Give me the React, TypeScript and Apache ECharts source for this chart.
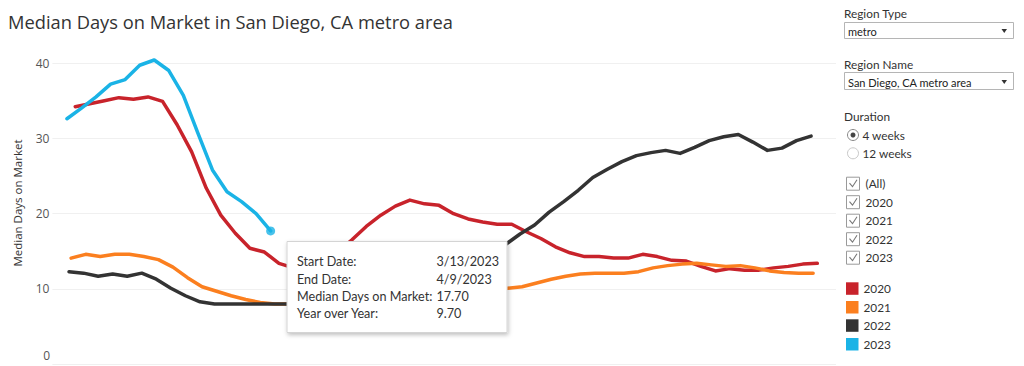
import React, { useEffect, useRef } from "react";
import * as echarts from "echarts";

// Week-ending day-of-year of each series' first weekly point (Sundays)
const firstDay2020 = 5;
const firstDay2021 = 3;
const firstDay2022 = 2;
const firstDay2023 = 1;

const values2020 = [
  34.2, 34.6, 35.0, 35.4, 35.2, 35.5, 34.9, 31.8, 28.2, 23.4, 19.8, 17.4, 15.4,
  14.9, 13.4, 12.8, 12.9, 13.6, 14.9, 16.5, 18.3, 19.8, 21.0, 21.8, 21.3, 21.1,
  20.0, 19.3, 18.9, 18.6, 18.6, 17.6, 16.7, 15.6, 14.8, 14.3, 14.3, 14.1, 14.1,
  14.6, 14.3, 13.8, 13.7, 13.0, 12.4, 12.7, 12.5, 12.5, 12.8, 13.0, 13.3, 13.4,
];
const values2021 = [
  14.1, 14.6, 14.3, 14.6, 14.6, 14.3, 13.9, 12.9, 11.5, 10.3, 9.7, 9.1, 8.6,
  8.2, 8.0, 8.0, 8.0, 8.0, 8.0, 8.0, 8.0, 8.1, 8.2, 8.4, 8.6, 8.9, 9.2, 9.5,
  9.7, 9.9, 10.1, 10.3, 10.8, 11.3, 11.7, 12.0, 12.1, 12.1, 12.1, 12.3, 12.8,
  13.1, 13.3, 13.4, 13.2, 13.0, 13.1, 12.8, 12.4, 12.2, 12.1, 12.1,
];
const values2022 = [
  12.3, 12.1, 11.7, 12.0, 11.7, 12.1, 11.3, 10.1, 9.1, 8.3, 8.0, 8.0, 8.0, 8.0,
  8.0, 8.0, 8.0, 8.0, 8.1, 8.2, 8.4, 8.7, 9.2, 9.8, 10.5, 11.3, 12.2, 13.1,
  14.0, 14.9, 15.9, 17.3, 18.5, 20.2, 21.6, 23.1, 24.8, 25.9, 26.9, 27.7, 28.1,
  28.4, 28.0, 28.8, 29.7, 30.2, 30.5, 29.5, 28.4, 28.7, 29.7, 30.3,
];
const values2023 = [
  32.6, 34.0, 35.5, 37.2, 37.8, 39.7, 40.4, 39.0, 35.7, 30.7, 25.8, 22.9, 21.6,
  20.0, 17.7,
];

const years = ["2020", "2021", "2022", "2023"];
const yearColors = ["#c8232b", "#fb7f1f", "#333333", "#1ab3e6"];
const yTicks = [0, 10, 20, 30, 40];

const titleText = "Median Days on Market in San Diego, CA metro area";
const yAxisTitle = "Median Days on Market";

const tooltipLabels = ["Start Date:", "End Date:", "Median Days on Market:", "Year over Year:"];
const tooltipValues = ["3/13/2023", "4/9/2023", "17.70", "9.70"];

const regionType = "metro";
const regionName = "San Diego, CA metro area";
const durationOptions = ["4 weeks", "12 weeks"];
const yearFilter = ["(All)", "2020", "2021", "2022", "2023"];

const TITLE_FONT = '"Open Sans", "Noto Sans", sans-serif';
const FONT = 'Lato, "Open Sans", sans-serif';

function weekly(firstDay: number, vals: number[]) {
  return vals.map((v, i) => [firstDay + 7 * i, v]);
}

function txt(x: number, y: number, text: string, size: number, fill = "#333", extra: any = {}) {
  const { align, family, ...rest } = extra;
  return {
    type: "text",
    x,
    y,
    z: 100,
    silent: true,
    ...rest,
    style: {
      text,
      fill,
      font: `${size}px ${family || FONT}`,
      textAlign: align || "left",
      align: align || "left",
      textVerticalAlign: "middle",
      verticalAlign: "middle",
    },
  };
}

export default function App() {
  const ref = useRef<HTMLDivElement>(null);

  useEffect(() => {
    if (!ref.current) return;
    const chart = echarts.init(ref.current, undefined, { renderer: "svg" });

    const allData = [
      weekly(firstDay2020, values2020),
      weekly(firstDay2021, values2021),
      weekly(firstDay2022, values2022),
      weekly(firstDay2023, values2023),
    ];

    const series: any[] = allData.map((d, i) => ({
      name: years[i],
      type: "line",
      data: d,
      showSymbol: false,
      symbol: "none",
      clip: false,
      lineStyle: { width: 3.5, color: yearColors[i], join: "round", cap: "round" },
      itemStyle: { color: yearColors[i] },
      z: 2 + i,
    }));
    const last2023 = allData[3][allData[3].length - 1];
    series.push({
      type: "scatter",
      data: [last2023],
      symbol: "circle",
      symbolSize: 9,
      itemStyle: { color: yearColors[3] },
      clip: false,
      z: 10,
    });

    const g: any[] = [];
    // title
    g.push(txt(8, 21, titleText, 18.3, "#333", { family: TITLE_FONT }));
    // y axis title
    g.push({
      type: "text",
      x: 17,
      y: 203,
      rotation: Math.PI / 2,
      z: 100,
      silent: true,
      style: {
        text: yAxisTitle,
        fill: "#333",
        font: `11.5px ${TITLE_FONT}`,
        textAlign: "center",
        align: "center",
        textVerticalAlign: "middle",
        verticalAlign: "middle",
      },
    });
    // zero label (raised as in the reference)
    g.push(txt(50, 355, String(yTicks[0]), 12, "#555", { align: "right", family: TITLE_FONT }));

    // tooltip box
    g.push({
      type: "rect",
      z: 90,
      silent: true,
      shape: { x: 287, y: 241.5, width: 220, height: 91 },
      style: {
        fill: "#ffffff",
        stroke: "#d4d4d4",
        lineWidth: 1,
        shadowBlur: 4,
        shadowOffsetX: 1,
        shadowOffsetY: 2,
        shadowColor: "rgba(0,0,0,0.25)",
      },
    });
    const rowY = [261.7, 279.2, 296.7, 313.3];
    tooltipLabels.forEach((l, i) => {
      g.push(txt(297, rowY[i], l, 12.6, "#333"));
      g.push(txt(436.5, rowY[i], tooltipValues[i], 12.6, "#333"));
    });

    // right panel
    const panelX = 844;
    const LBL = 11.8;
    const DD = 11;
    g.push(txt(panelX, 13, "Region Type", LBL, "#333"));
    g.push({
      type: "rect",
      z: 90,
      silent: true,
      shape: { x: 844.5, y: 22.5, width: 169, height: 16 },
      style: { fill: "#fff", stroke: "#b5b5b5", lineWidth: 1 },
    });
    g.push(txt(848, 31, regionType, DD, "#222"));
    g.push({
      type: "polygon",
      z: 100,
      silent: true,
      shape: { points: [[1001.5, 29], [1007, 29], [1004.25, 33]] },
      style: { fill: "#333" },
    });

    g.push(txt(panelX, 64, "Region Name", LBL, "#333"));
    g.push({
      type: "rect",
      z: 90,
      silent: true,
      shape: { x: 844.5, y: 72.5, width: 169, height: 17 },
      style: { fill: "#fff", stroke: "#b5b5b5", lineWidth: 1 },
    });
    g.push(txt(848, 82, regionName, DD, "#222"));
    g.push({
      type: "polygon",
      z: 100,
      silent: true,
      shape: { points: [[1001.5, 80], [1007, 80], [1004.25, 84]] },
      style: { fill: "#333" },
    });

    g.push(txt(panelX, 116, "Duration", LBL, "#333"));
    const radioY = [135, 153.3];
    durationOptions.forEach((d, i) => {
      g.push({
        type: "circle",
        z: 100,
        silent: true,
        shape: { cx: 853, cy: radioY[i], r: 5.5 },
        style: { fill: "#fff", stroke: i === 0 ? "#888" : "#c8c8c8", lineWidth: 1 },
      });
      if (i === 0) {
        g.push({
          type: "circle",
          z: 101,
          silent: true,
          shape: { cx: 853, cy: radioY[i], r: 2.5 },
          style: { fill: "#444" },
        });
      }
      g.push(txt(862.5, radioY[i], d, LBL, "#333"));
    });

    const checkY = [183.7, 202.2, 220.7, 239.2, 257.7];
    yearFilter.forEach((t, i) => {
      const cy = checkY[i];
      g.push({
        type: "rect",
        z: 100,
        silent: true,
        shape: { x: 846.5, y: cy - 6.5, width: 13, height: 13 },
        style: { fill: "#fff", stroke: "#9a9a9a", lineWidth: 1 },
      });
      g.push({
        type: "polyline",
        z: 101,
        silent: true,
        shape: { points: [[849.5, cy - 0.5], [852.5, cy + 3], [857, cy - 4]] },
        style: { stroke: "#777", lineWidth: 1.1, fill: null },
      });
      g.push(txt(865.5, cy, t, LBL, "#333"));
    });

    const legY = [288.3, 307, 325.3, 344];
    years.forEach((y, i) => {
      g.push({
        type: "rect",
        z: 100,
        silent: true,
        shape: { x: 846, y: legY[i] - 6, width: 12.5, height: 12.5 },
        style: { fill: yearColors[i] },
      });
      g.push(txt(863.5, legY[i], y, LBL, "#333"));
    });

    chart.setOption({
      animation: false,
      backgroundColor: "#ffffff",
      grid: { left: 52.4, top: 63, width: 783.6, height: 301.3, containLabel: false },
      xAxis: {
        type: "value",
        min: -6,
        max: 371,
        show: false,
        splitLine: { show: false },
      },
      yAxis: {
        type: "value",
        min: 0,
        max: 40,
        interval: 10,
        axisLine: { show: false },
        axisTick: { show: false },
        axisLabel: {
          color: "#555",
          fontSize: 12,
          fontFamily: TITLE_FONT,
          margin: 3,
          formatter: (v: number) => (v === 0 ? "" : String(v)),
        },
        splitLine: { lineStyle: { color: "#f0f0f0", width: 1 } },
      },
      series,
      graphic: g,
    });

    return () => chart.dispose();
  }, []);

  return (
    <div
      ref={ref}
      style={{ position: "fixed", left: 0, top: 0, width: 1024, height: 366, background: "#fff" }}
    />
  );
}
